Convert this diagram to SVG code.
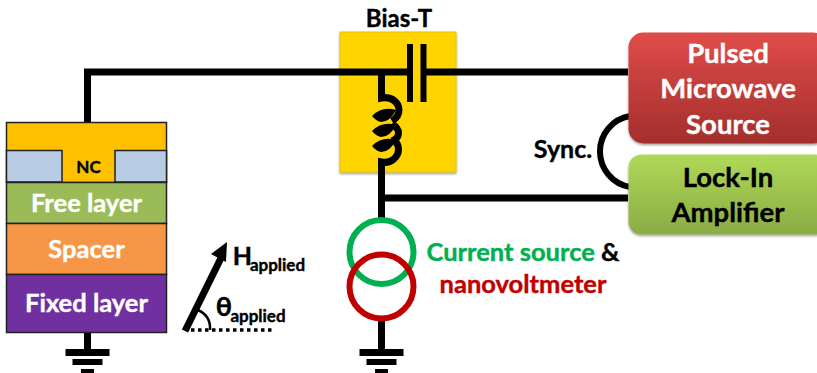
<svg xmlns="http://www.w3.org/2000/svg" width="817" height="373" viewBox="0 0 817 373">
<defs>
<linearGradient id="red" x1="0" y1="0" x2="0" y2="1"><stop offset="0" stop-color="#e04c4a"/><stop offset="1" stop-color="#a32e2c"/></linearGradient>
<linearGradient id="green" x1="0" y1="0" x2="0" y2="1"><stop offset="0" stop-color="#b0d957"/><stop offset="1" stop-color="#8bab45"/></linearGradient>
<filter id="sh" x="-5%" y="-5%" width="110%" height="112%"><feDropShadow dx="0" dy="1.5" stdDeviation="1.2" flood-color="#000" flood-opacity="0.4"/></filter>
<g id="gnd"><rect x="-22" y="0" width="44" height="7"/><rect x="-15" y="10" width="30" height="6"/><rect x="-6.500" y="20" width="13" height="4"/></g>
</defs>
<style>
text{font-family:"Lato","Open Sans","Liberation Sans",sans-serif;font-weight:700;text-anchor:middle;stroke-width:.4}
.w{fill:#fff;stroke:#fff}.k{fill:#000;stroke:#000}
.wire{fill:none;stroke:#000;stroke-width:7}
.lay{stroke:#222;stroke-width:1.5}
.big{font-size:27.500px}.mid{font-size:25.500px}
</style>
<g id="bias-t">
<rect x="340" y="32" width="116" height="140" fill="#ffd500" stroke="#e8c200" filter="url(#sh)"/>
<text class="k" x="399" y="27" font-size="24">Bias-T</text>
</g>
<g id="connectors">
<path class="wire" d="M87.500 122V72H410M423 72H628"/>
<path class="wire" d="M381.500 72V98C392 96 399 103 399 110C399 115 397 118 392 121M392 124C397 127 398.500 130 398.500 133C398.500 136 397 139 392 141M392 139C397 142 398.500 146 398.500 149C398.500 157 391 164 381.500 162V218"/>
<path class="wire" d="M381 198H628"/>
<path fill="none" stroke="#000" stroke-width="6" d="M630 116A36 36 0 0 0 630 187"/>
<path class="wire" d="M381.500 318V350"/>
<path class="wire" d="M87.500 332V350"/>
<path d="M410 44v58M423.500 44v58" fill="none" stroke="#000" stroke-width="6"/>
<path d="M372 116Q382 106 396 110Q390 122 381 122Q376 121 372 116Z M372 131Q382 121 396 125Q390 137 381 137Q376 136 372 131Z M372 146Q382 136 396 140Q390 152 381 152Q376 151 372 146Z" fill="#000"/>
</g>
<g id="gnd-left"><use href="#gnd" x="87.500" y="349"/></g>
<g id="gnd-right"><use href="#gnd" x="381.500" y="349"/></g>
<g id="stack">
<rect class="lay" x="6.500" y="122.500" width="160" height="60" fill="#ffc000"/>
<path class="lay" d="M6.500 150.500H62V182H6.500Z" fill="#b8cce4"/>
<path class="lay" d="M166.500 150.500H115V182H166.500Z" fill="#b8cce4"/>
<text class="k" x="88.500" y="173" font-size="17">NC</text>
<rect class="lay" x="6.500" y="182.500" width="160" height="41" fill="#9bbb59"/>
<text class="w mid" x="86.500" y="212">Free layer</text>
<rect class="lay" x="6.500" y="223.500" width="160" height="51" fill="#f79646"/>
<text class="w mid" x="86.500" y="258">Spacer</text>
<rect class="lay" x="6.500" y="274.500" width="160" height="58" fill="#7030a0"/>
<text class="w mid" x="86.500" y="312">Fixed layer</text>
</g>
<g id="field">
<path d="M185 331L222 256" fill="none" stroke="#000" stroke-width="7"/>
<path d="M227 242L226 262L211 254Z" fill="#000"/>
<path d="M191 330H273" fill="none" stroke="#000" stroke-width="3.500" stroke-dasharray="3.500 3.500"/>
<path d="M198 310Q211 316 210 330" fill="none" stroke="#000" stroke-width="2.500"/>
<text class="k" x="242.500" y="265" font-size="25">H</text>
<text class="k" x="277.500" y="271" font-size="17">applied</text>
<text class="k" x="224" y="316" font-size="27">θ</text>
<text class="k" x="258" y="322" font-size="17">applied</text>
</g>
<g id="sources">
<circle cx="381.500" cy="252" r="32" fill="none" stroke="#00b050" stroke-width="6"/>
<circle cx="381.500" cy="286.500" r="32" fill="none" stroke="#c00000" stroke-width="6"/>
<text x="523" y="261" font-size="25.500" stroke-width=".4"><tspan fill="#00b050" stroke="#00b050">Current source </tspan><tspan fill="#000" stroke="#000">&amp;</tspan></text>
<text x="523" y="293" font-size="25.500" fill="#c00000" stroke="#c00000">nanovoltmeter</text>
</g>
<g id="pulsed-source">
<rect x="628.500" y="32.500" width="200" height="111" rx="15" fill="url(#red)" filter="url(#sh)"/>
<text class="w big" x="728" y="63">Pulsed</text>
<text class="w big" x="728" y="98">Microwave</text>
<text class="w big" x="728" y="134">Source</text>
</g>
<g id="lock-in">
<rect x="628.500" y="154.500" width="200" height="80" rx="13" fill="url(#green)" filter="url(#sh)"/>
<text class="k big" x="728" y="187">Lock-In</text>
<text class="k big" x="728" y="222">Amplifier</text>
</g>
<text class="k" x="563" y="158" font-size="25">Sync.</text>
</svg>
